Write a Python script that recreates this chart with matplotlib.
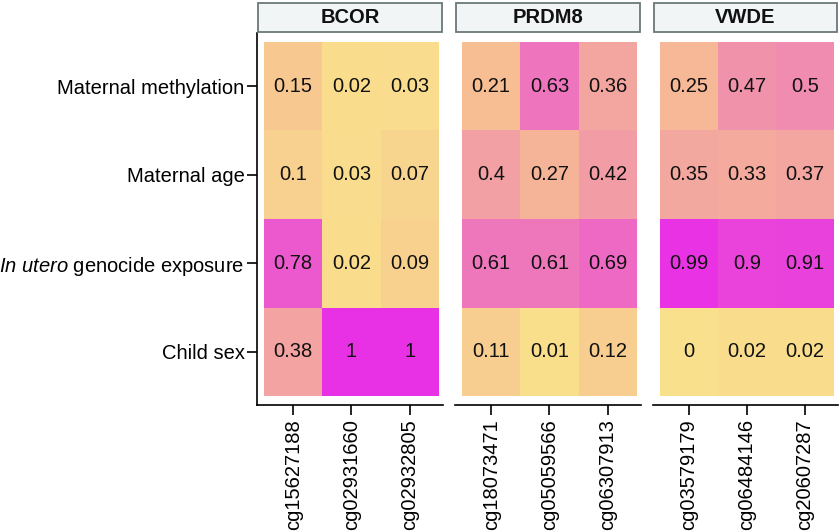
import numpy as np
import matplotlib
matplotlib.use("Agg")
import matplotlib.pyplot as plt
from matplotlib.colors import LinearSegmentedColormap
from matplotlib.patches import Rectangle

plt.rcParams['font.family'] = ['Liberation Sans', 'DejaVu Sans']
plt.rcParams['mathtext.fontset'] = 'custom'
plt.rcParams['mathtext.rm'] = 'Liberation Sans'
plt.rcParams['mathtext.it'] = 'Liberation Sans:italic'

# ---- data ----
genes = ["BCOR", "PRDM8", "VWDE"]
row_labels = ["Maternal methylation", "Maternal age",
              r"$\mathit{In\ utero}$ genocide exposure", "Child sex"]
bcor_cpgs = ["cg15627188", "cg02931660", "cg02932805"]
prdm8_cpgs = ["cg18073471", "cg05059566", "cg06307913"]
vwde_cpgs = ["cg03579179", "cg06484146", "cg20607287"]
bcor_vals = [[0.15, 0.02, 0.03],
             [0.10, 0.03, 0.07],
             [0.78, 0.02, 0.09],
             [0.38, 1.00, 1.00]]
prdm8_vals = [[0.21, 0.63, 0.36],
              [0.40, 0.27, 0.42],
              [0.61, 0.61, 0.69],
              [0.11, 0.01, 0.12]]
vwde_vals = [[0.25, 0.47, 0.50],
             [0.35, 0.33, 0.37],
             [0.99, 0.90, 0.91],
             [0.00, 0.02, 0.02]]

panels = [(genes[0], bcor_cpgs, bcor_vals),
          (genes[1], prdm8_cpgs, prdm8_vals),
          (genes[2], vwde_cpgs, vwde_vals)]

cmap = LinearSegmentedColormap.from_list(
    "ym", [(0.0, "#F9E08C"), (0.21, "#F7BE93"), (0.4, "#F2A0A3"),
           (0.63, "#EE74BE"), (1.0, "#E831E5")])

W, H = 840, 531
fig = plt.figure(figsize=(W / 100, H / 100), dpi=100)

lefts = [257, 455, 653]
widths = [186, 186, 185]
ax_top, ax_bot = 33, 405
strip_top = 2

def fmt(v):
    return f"{round(v, 2):g}"

for i, (gene, cpgs, vals) in enumerate(panels):
    l = lefts[i] / W
    b = 1 - ax_bot / H
    w = widths[i] / W
    h = (ax_bot - ax_top) / H
    ax = fig.add_axes([l, b, w, h])
    arr = np.array(vals)
    ax.pcolormesh(np.arange(4) - 0.5, np.arange(5) - 0.5, arr, cmap=cmap,
                  vmin=0, vmax=1, edgecolor='none')
    for r in range(arr.shape[0]):
        for c in range(arr.shape[1]):
            ax.text(c, r, fmt(arr[r, c]), ha='center', va='center',
                    fontsize=14.5, color='#111111')
    ax.set_xlim(-0.62, 2.57)
    ax.set_ylim(3.6, -0.6)
    ax.set_xticks(range(3))
    ax.set_xticklabels(cpgs, rotation=90, fontsize=14.5)
    for s in ['top', 'right']:
        ax.spines[s].set_visible(False)
    ax.spines['bottom'].set_linewidth(1.2)
    ax.spines['left'].set_linewidth(1.2)
    ax.tick_params(axis='x', length=7, width=1.2, pad=3)
    if i == 0:
        ax.set_yticks(range(4))
        ax.set_yticklabels(row_labels, fontsize=14.5)
        ax.tick_params(axis='y', length=7, width=1.2, pad=2)
    else:
        ax.spines['left'].set_visible(False)
        ax.set_yticks([])
    # strip
    sax = fig.add_axes([l, 1 - ax_top / H, w, (ax_top - strip_top) / H])
    sax.set_xlim(0, 1)
    sax.set_ylim(0, 1)
    sax.axis('off')
    sax.add_patch(Rectangle((0.004, 0.02), 0.992, 0.96, facecolor='#F1F5F5',
                            edgecolor='#6B7878', linewidth=1.3,
                            transform=sax.transAxes, clip_on=False))
    sax.text(0.5, 0.5, gene, ha='center', va='center', fontsize=14.5,
             fontweight='bold', color='#111111')

fig.savefig("out.png", dpi=100)
